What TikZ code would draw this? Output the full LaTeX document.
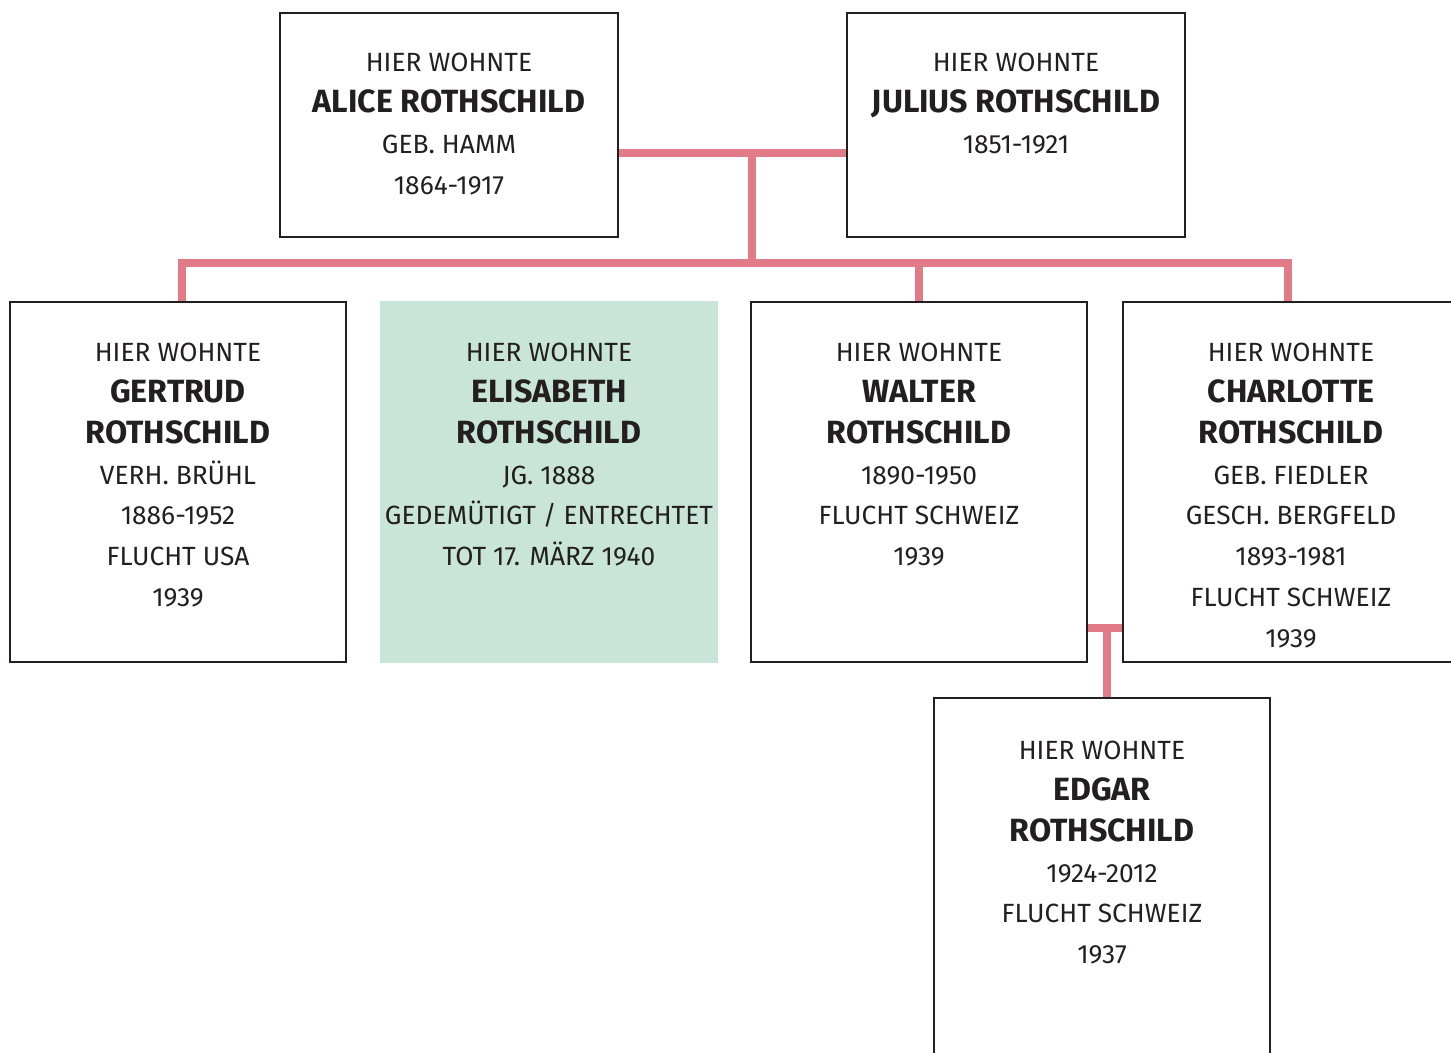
\documentclass[tikz,border=0pt]{standalone}
\usepackage{fontspec}
\setmainfont{Fira Sans}
\usetikzlibrary{positioning,calc,backgrounds}
\definecolor{stoneblack}{HTML}{231F20}
\definecolor{famred}{HTML}{E07B87}
\definecolor{mourngreen}{HTML}{C8E5D8}
\newcommand{\pname}[1]{{\fontsize{18.3}{23.2}\selectfont\bfseries #1}}

\begin{document}
\begin{tikzpicture}[x=0.02cm,y=-0.02cm,
	stone/.style={draw=stoneblack,line width=1.4pt,minimum width=6.72cm,minimum height=7.2cm,outer sep=0pt,inner sep=0pt},
	parentstone/.style={stone,minimum width=6.76cm,minimum height=4.48cm},
	markedstone/.style={stone,draw=none,fill=mourngreen,minimum width=6.76cm,minimum height=7.24cm},
	stonetext/.style={align=center,inner sep=0pt,text=stoneblack,font=\fontsize{15}{23.2}\selectfont},
	famline/.style={draw=famred,line width=4pt}
	]
	\useasboundingbox (0,0) rectangle (1451,1053);
	
	% parents
	\node[parentstone] (alice) at (449,125) {};
	\node[parentstone] (julius) at (1016,125) {};
	\node[stonetext,below=0.8cm of alice.north] (alicetxt) {HIER WOHNTE\\ \pname{ALICE ROTHSCHILD}\\ GEB. HAMM\\ 1864-1917};
	\node[stonetext,below=0.8cm of julius.north] (juliustxt) {HIER WOHNTE\\ \pname{JULIUS ROTHSCHILD}\\ 1851-1921};
	
	% children
	\node[stone] (gertrud) at (178,482) {};
	\node[markedstone] (elisabeth) at (549,482) {};
	\node[stone] (walter) at (919,482) {};
	\node[stone] (charlotte) at (1291,482) {};
	\node[stonetext,below=0.82cm of gertrud.north] (gertrudtxt) {HIER WOHNTE\\ \pname{GERTRUD}\\ \pname{ROTHSCHILD}\\ VERH. BRÜHL\\ 1886-1952\\ FLUCHT USA\\ 1939};
	\node[stonetext,below=0.84cm of elisabeth.north] (elisabethtxt) {HIER WOHNTE\\ \pname{ELISABETH}\\ \pname{ROTHSCHILD}\\ JG. 1888\\ GEDEMÜTIGT / ENTRECHTET\\ TOT 17. MÄRZ 1940};
	\node[stonetext,below=0.82cm of walter.north] (waltertxt) {HIER WOHNTE\\ \pname{WALTER}\\ \pname{ROTHSCHILD}\\ 1890-1950\\ FLUCHT SCHWEIZ\\ 1939};
	\node[stonetext,below=0.82cm of charlotte.north] (charlottetxt) {HIER WOHNTE\\ \pname{CHARLOTTE}\\ \pname{ROTHSCHILD}\\ GEB. FIEDLER\\ GESCH. BERGFELD\\ 1893-1981\\ FLUCHT SCHWEIZ\\ 1939};
	
	% grandchild
	\node[stone] (edgar) at (1102,878) {};
	\node[stonetext,below=0.86cm of edgar.north] (edgartxt) {HIER WOHNTE\\ \pname{EDGAR}\\ \pname{ROTHSCHILD}\\ 1924-2012\\ FLUCHT SCHWEIZ\\ 1937};
	
	\begin{scope}[on background layer]
		\coordinate (parents) at (752,153);
		\coordinate (kids) at (752,263);
		\coordinate (wc) at (1107,628);
		\draw[famline] (alice.east |- parents) -- (julius.west |- parents);
		\draw[famline] (parents) -- (kids);
		\draw[famline] ($(gertrud.north)+(4,0)$) |- (kids) -| ($(charlotte.north)+(-3,0)$);
		\draw[famline] ($(elisabeth.north)+(14,0)$) -- ($(elisabeth.north)+(14,0)$ |- kids);
		\draw[famline] (walter.north) -- (walter.north |- kids);
		\draw[famline] (walter.east |- wc) -- (charlotte.west |- wc);
		\draw[famline] (wc) -- (wc |- edgar.north);
	\end{scope}
\end{tikzpicture}
\end{document}
